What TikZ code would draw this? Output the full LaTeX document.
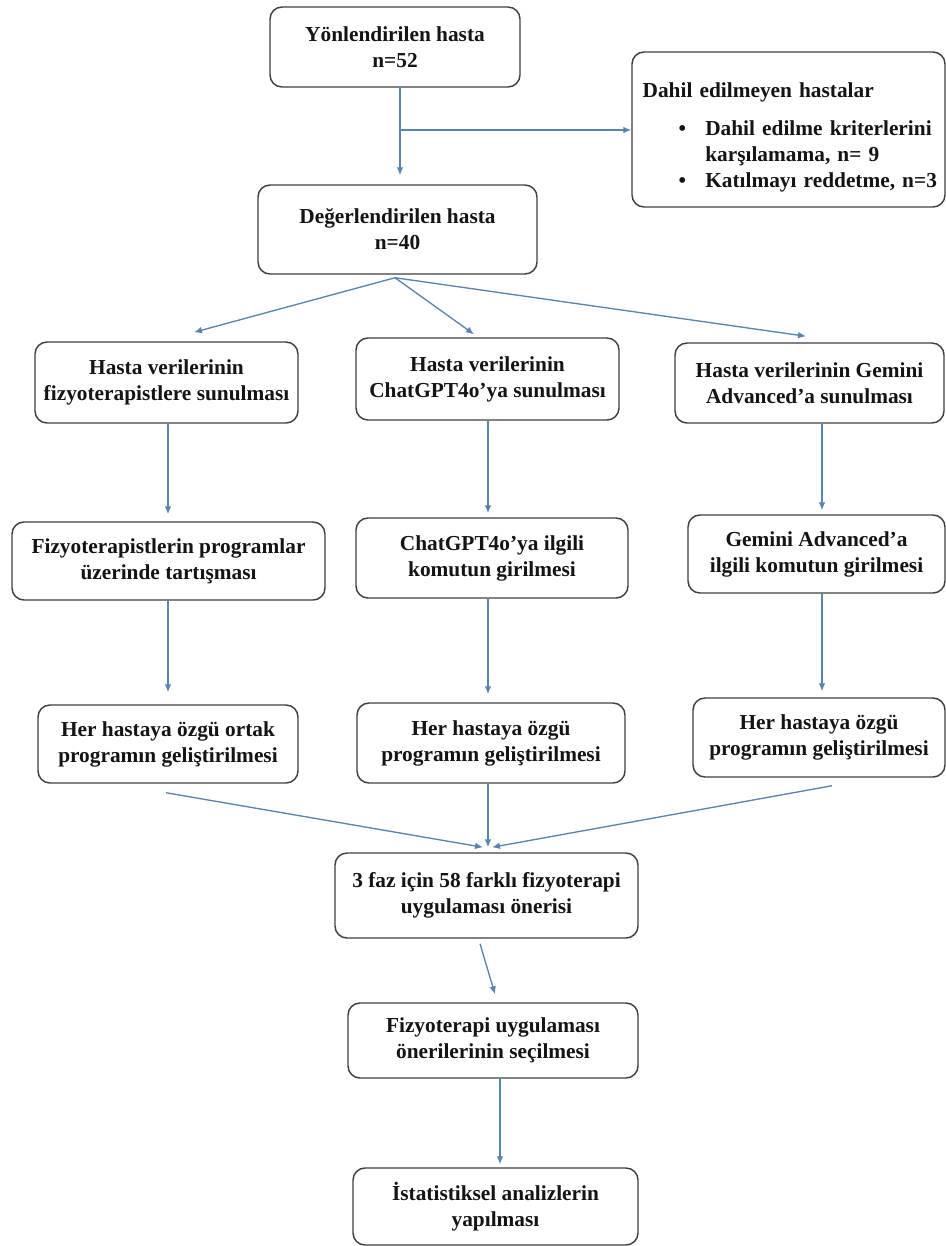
\documentclass[tikz,border=0pt]{standalone}
\usepackage{fontspec}
\setmainfont{Liberation Serif}
\usetikzlibrary{arrows.meta,calc}
\definecolor{arrowblue}{RGB}{88,132,178}
\definecolor{boxgray}{RGB}{64,64,64}
\definecolor{textdark}{RGB}{20,20,20}
\begin{document}
\begin{tikzpicture}[x=0.75pt,y=-0.75pt,
  box/.style={draw=boxgray, line width=1.1pt, rounded corners=9pt, fill=white,
    align=center, inner sep=0pt, text=textdark,
    font=\fontsize{16pt}{19.5pt}\selectfont\bfseries},
  arr/.style={draw=arrowblue, line width=1pt, -{Latex[length=6pt,width=5pt]}}]
\useasboundingbox (0,0) rectangle (946,1246);
\fill[white] (0,0) rectangle (946,1246);

% nodes
\node[box, minimum width=187.5pt, minimum height=60pt] (b1) at (395,47) {Yönlendirilen hasta\\n=52};
\node[box, minimum width=234.75pt, minimum height=116.25pt, align=left, text width=218.75pt,
      inner xsep=8pt] (ex) at (788.5,129.5)
  {\rule{0pt}{23pt}\mbox{Dahil edilmeyen hastalar}\\[9pt]
   \mbox{\hspace*{27pt}\makebox[20pt][l]{•}Dahil edilme kriterlerini}\\
   \mbox{\hspace*{47pt}karşılamama, n= 9}\\
   \mbox{\hspace*{27pt}\makebox[20pt][l]{•}Katılmayı reddetme, n=3}};
\node[box, minimum width=209.25pt, minimum height=66.75pt] (b2) at (397.5,229.5) {Değerlendirilen hasta\\n=40};

\node[box, minimum width=197.25pt, minimum height=60.75pt] (r3a) at (166.5,382.5) {Hasta verilerinin\\fizyoterapistlere sunulması};
\node[box, minimum width=197.25pt, minimum height=61.5pt] (r3b) at (487.5,379) {Hasta verilerinin\\ChatGPT4o’ya sunulması};
\node[box, minimum width=201.75pt, minimum height=60pt] (r3c) at (809.5,383) {Hasta verilerinin Gemini\\Advanced’a sunulması};

\node[box, minimum width=234.75pt, minimum height=58.5pt] (r4a) at (168.5,561) {Fizyoterapistlerin programlar\\üzerinde tartışması};
\node[box, minimum width=204pt, minimum height=60pt] (r4b) at (492,558) {ChatGPT4o’ya ilgili\\komutun girilmesi};
\node[box, minimum width=192.75pt, minimum height=58.5pt] (r4c) at (816.5,554) {Gemini Advanced’a\\ilgili komutun girilmesi};

\node[box, minimum width=195pt, minimum height=58.5pt] (r5a) at (168,744) {Her hastaya özgü ortak\\programın geliştirilmesi};
\node[box, minimum width=201pt, minimum height=60pt] (r5b) at (491,743) {Her hastaya özgü\\programın geliştirilmesi};
\node[box, minimum width=189pt, minimum height=59.25pt] (r5c) at (819,737.5) {Her hastaya özgü\\programın geliştirilmesi};

\node[box, minimum width=227.25pt, minimum height=63.75pt] (f1) at (486.5,895.5) {3 faz için 58 farklı fizyoterapi\\uygulaması önerisi};
\node[box, minimum width=217.5pt, minimum height=56.25pt] (f2) at (493,1040.5) {Fizyoterapi uygulaması\\önerilerinin seçilmesi};
\node[box, minimum width=213.75pt, minimum height=57.75pt] (f3) at (495.5,1206.5) {İstatistiksel analizlerin\\yapılması};

% connectors
\coordinate (j1) at (400,130);
\draw[arr] ($(b1.south)+(5,0)$) -- ($(b2.north)+(2.5,-9)$);
\draw[arr] (j1) -- (ex.west |- j1);

\coordinate (s2) at ($(b2.south)+(-2.5,3)$);
\draw[arr] (s2) -- ($(r3a.north)+(27.5,-9)$);
\draw[arr] (s2) -- ($(r3b.north)+(-13.5,-3)$);
\draw[arr] (s2) -- ($(r3c.north)+(-3.5,-6)$);

\draw[arr] ($(r3a.south)+(1.5,0)$) -- ($(r4a.north)+(-0.5,-7)$);
\draw[arr] ($(r3b.south)+(0.5,0)$) -- ($(r4b.north)+(-4,-4)$);
\draw[arr] ($(r3c.south)+(12.5,0)$) -- ($(r4c.north)+(5.5,-4)$);

\draw[arr] ($(r4a.south)+(-0.5,0)$) -- ($(r5a.north)+(0,-12)$);
\draw[arr] ($(r4b.south)+(-4,0)$) -- ($(r5b.north)+(-3,-8)$);
\draw[arr] ($(r4c.south)+(5.5,0)$) -- ($(r5c.north)+(3,-6)$);

\draw[arr] ($(r5a.south)+(-2,9)$) -- ($(f1.north)+(-3.5,-5)$);
\draw[arr] ($(r5b.south)+(-3,0)$) -- ($(f1.north)+(1.5,-5)$);
\draw[arr] ($(r5c.south)+(13,8)$) -- ($(f1.north)+(5.5,-5)$);

\draw[arr] ($(f1.south)+(-6.5,5)$) -- ($(f2.north)+(2,-8)$);
\draw[arr] ($(f2.south)+(7,0)$) -- ($(f3.north)+(4.5,-3)$);
\end{tikzpicture}
\end{document}
